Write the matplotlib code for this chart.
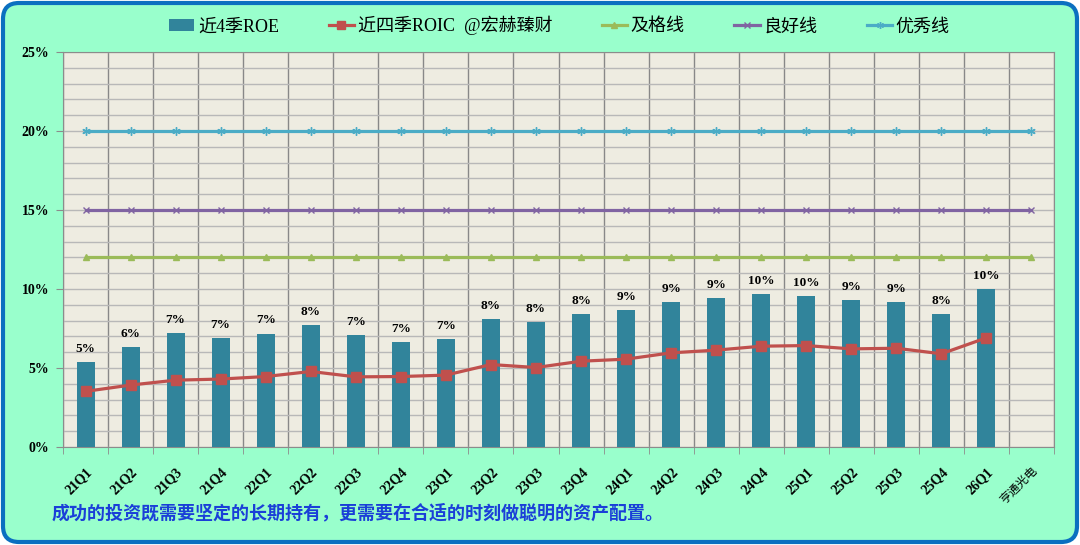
import numpy as np
import matplotlib
matplotlib.use("Agg")
import matplotlib.pyplot as plt
from matplotlib.patches import FancyBboxPatch, Patch
from matplotlib.lines import Line2D
from matplotlib.ticker import MultipleLocator, FuncFormatter

plt.rcParams['font.family'] = ['Liberation Serif', 'Noto Sans CJK SC']

# 数据
quarters = ['21Q1', '21Q2', '21Q3', '21Q4', '22Q1', '22Q2', '22Q3', '22Q4',
            '23Q1', '23Q2', '23Q3', '23Q4', '24Q1', '24Q2', '24Q3', '24Q4',
            '25Q1', '25Q2', '25Q3', '25Q4', '26Q1', '亨通光电']
roe = [0.0537, 0.0634, 0.0722, 0.0691, 0.0718, 0.0771, 0.0708, 0.0667,
       0.0686, 0.0811, 0.0792, 0.0840, 0.0865, 0.0920, 0.0941, 0.0969,
       0.0958, 0.0929, 0.0918, 0.0842, 0.0998]
roic = [0.0352, 0.0392, 0.0423, 0.0430, 0.0446, 0.0478, 0.0444, 0.0446,
        0.0455, 0.0522, 0.0503, 0.0543, 0.0556, 0.0596, 0.0613, 0.0638,
        0.0642, 0.0621, 0.0625, 0.0590, 0.0691]
pass_line = [0.12] * len(quarters)
good_line = [0.15] * len(quarters)
excellent_line = [0.20] * len(quarters)

note = '成功的投资既需要坚定的长期持有，更需要在合适的时刻做聪明的资产配置。'

fig = plt.figure(figsize=(10.8, 5.45), dpi=100, facecolor='white')

# 圆角背景框
bg = FancyBboxPatch((0.03, 0.03), 10.74, 5.39,
                    boxstyle="round,pad=0,rounding_size=0.16",
                    facecolor='#99FFCC', edgecolor='#0B6FC0', linewidth=3,
                    transform=fig.dpi_scale_trans, zorder=-10)
fig.patches.append(bg)

ax = fig.add_axes([63 / 1080, 1 - 447 / 545, (1054 - 63) / 1080, (447 - 52) / 545])
ax.set_facecolor('#EEECE1')

x = np.arange(len(quarters))
xr = x[:len(roe)]

ax.bar(xr, roe, width=0.4, color='#31849B', zorder=3)
ax.plot(xr, roic, color='#C0504D', lw=2.3, marker='s', ms=7, zorder=5)
ax.plot(x, pass_line, color='#9BBB59', lw=2.3, marker='^', ms=5, zorder=4)
ax.plot(x, good_line, color='#8064A2', lw=2.3, marker='x', ms=5, mew=1, zorder=4)
ax.plot(x, excellent_line, color='#4BACC6', lw=2.3, marker=(6, 2, 0), ms=6, mew=1, zorder=4)

for xi, v in zip(xr, roe):
    ax.text(xi, v + 0.0045, '{:.0%}'.format(v), ha='center', va='bottom',
            fontsize=9.5, fontweight='bold', zorder=6)

ax.set_xlim(-0.5, len(quarters) - 0.5)
ax.set_ylim(0, 0.25)
ax.yaxis.set_major_locator(MultipleLocator(0.05))
ax.yaxis.set_minor_locator(MultipleLocator(0.01))
ax.yaxis.set_major_formatter(FuncFormatter(lambda v, p: '{:.0f}%'.format(v * 100)))
ax.set_xticks(x)
ax.set_xticks(np.arange(-0.5, len(quarters), 1.0), minor=True)
ax.set_xticklabels(quarters, rotation=45, ha='right', rotation_mode='anchor')
for lab in ax.get_xticklabels():
    if lab.get_text() == '亨通光电':
        lab.set_fontweight('normal')
        lab.set_fontsize(8.5)
    else:
        lab.set_fontweight('bold')
        lab.set_fontsize(10)
for lab in ax.get_yticklabels():
    lab.set_fontweight('bold')
    lab.set_fontsize(10)

ax.tick_params(axis='x', which='major', length=0, pad=13)
ax.tick_params(axis='x', which='minor', length=5, color='#8C8C8C')
ax.tick_params(axis='y', which='major', length=5, color='#8C8C8C', pad=5)
ax.tick_params(axis='y', which='minor', length=0)

ax.grid(True, axis='y', which='both', color='#B8B8B8', lw=1, zorder=1)
ax.grid(True, axis='x', which='minor', color='#888888', lw=1, zorder=1)
ax.grid(False, axis='x', which='major')
ax.set_axisbelow(True)
for s in ax.spines.values():
    s.set_color('#8C8C8C')

handles = [Patch(facecolor='#31849B'),
           Line2D([], [], color='#C0504D', lw=2.3, marker='s', ms=6),
           Line2D([], [], color='#9BBB59', lw=2.3, marker='^', ms=5),
           Line2D([], [], color='#8064A2', lw=2.3, marker='x', ms=5),
           Line2D([], [], color='#4BACC6', lw=2.3, marker=(6, 2, 0), ms=5)]
labels = ['近4季ROE', '近四季ROIC  @宏赫臻财', '及格线', '良好线', '优秀线']
fig.legend(handles, labels, loc='center', bbox_to_anchor=(0.518, 0.953), ncol=5,
           frameon=False, fontsize=13, handlelength=1.4, handletextpad=0.2,
           columnspacing=2.75)

fig.text(52 / 1080, 1 - 513 / 545, note, color='#1A3FD8', fontsize=13,
         fontweight='bold', ha='left', va='center')

fig.savefig('out.png', dpi=100, facecolor=fig.get_facecolor())
